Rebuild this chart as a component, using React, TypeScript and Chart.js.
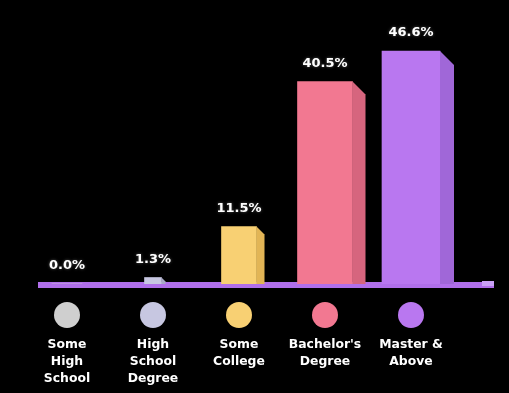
import React, { useEffect, useRef } from "react";
import { Chart, registerables } from "chart.js";
Chart.register(...registerables);

const categories: string[][] = [
  ["Some", "High", "School"],
  ["High", "School", "Degree"],
  ["Some", "College"],
  ["Bachelor's", "Degree"],
  ["Master &", "Above"],
];
const values: number[] = [0.0, 1.3, 11.5, 40.5, 46.6];
const valueLabels: string[] = ["0.0%", "1.3%", "11.5%", "40.5%", "46.6%"];
const frontColors = ["#cfcfcf", "#c7c7e1", "#f8d073", "#f27891", "#b977f0"];
const sideColors = ["#b0b0b0", "#a9a9c8", "#e2b556", "#d6657e", "#a067d8"];
const barWidths = [30, 17, 35, 55, 58];

const FONT = "'DejaVu Sans', sans-serif";

const decoPlugin = {
  id: "deco",
  beforeDatasetsDraw(chart: any) {
    const { ctx, chartArea } = chart;
    ctx.save();
    ctx.fillStyle = "#b06fea";
    ctx.fillRect(chartArea.left + 14, chartArea.bottom - 2, chartArea.right - chartArea.left + 26, 6);
    ctx.fillStyle = "#c9a0f5";
    ctx.fillRect(chartArea.right + 28, chartArea.bottom - 3, 12, 5);
    ctx.restore();
  },
  afterDatasetsDraw(chart: any) {
    const { ctx } = chart;
    ctx.save();
    chart.data.datasets.forEach((ds: any, i: number) => {
      const meta = chart.getDatasetMeta(i);
      const el: any = meta.data[i];
      if (!el) return;
      const { x, y, base, width } = el.getProps(["x", "y", "base", "width"], true);
      const h = base - y;
      const right = x + width / 2;
      const d = Math.round(width * 0.24);
      if (h > d + 1) {
        ctx.fillStyle = sideColors[i];
        ctx.beginPath();
        ctx.moveTo(right, y);
        ctx.lineTo(right + d, y + d);
        ctx.lineTo(right + d, base);
        ctx.lineTo(right, base);
        ctx.closePath();
        ctx.fill();
      }
      ctx.font = `bold 13px ${FONT}`;
      ctx.fillStyle = "#ffffff";
      ctx.textAlign = "center";
      ctx.textBaseline = "middle";
      ctx.shadowColor = "rgba(255,255,255,0.35)";
      ctx.shadowBlur = 3;
      ctx.fillText(valueLabels[i], x, y - 18);
      ctx.shadowBlur = 0;
    });
    ctx.restore();
  },
  afterDraw(chart: any) {
    const { ctx, chartArea } = chart;
    const xs = chart.scales.x;
    ctx.save();
    categories.forEach((_, i) => {
      const cx = xs.getPixelForValue(i);
      ctx.fillStyle = frontColors[i];
      ctx.beginPath();
      ctx.arc(cx, chartArea.bottom + 31, 13, 0, Math.PI * 2);
      ctx.fill();
    });
    ctx.restore();
  },
};

export default function App() {
  const ref = useRef<HTMLCanvasElement>(null);
  useEffect(() => {
    if (!ref.current) return;
    const chart = new Chart(ref.current, {
      type: "bar",
      data: {
        labels: categories,
        datasets: values.map((v, i) => ({
          label: valueLabels[i],
          data: values.map((_, j) => (j === i ? v : null)),
          backgroundColor: frontColors[i],
          barThickness: barWidths[i],
          borderWidth: 0,
        })),
      },
      options: {
        responsive: false,
        animation: false,
        maintainAspectRatio: false,
        layout: { padding: { top: 34, left: 24, right: 55, bottom: 6 } },
        plugins: { legend: { display: false }, tooltip: { enabled: false } },
        datasets: { bar: { grouped: false } } as any,
        scales: {
          y: { display: false, min: 0, max: 50 },
          x: {
            grid: { display: false, drawTicks: false },
            border: { display: false },
            afterFit: (s: any) => {
              s.height = 103;
              s.paddingLeft = 0;
              s.paddingRight = 0;
            },
            ticks: {
              color: "#ffffff",
              padding: 52,
              autoSkip: false,
              maxRotation: 0,
              font: { family: FONT, size: 12.4, weight: "bold" as any, lineHeight: 1.37 },
            },
          },
        },
      },
      plugins: [decoPlugin],
    });
    return () => chart.destroy();
  }, []);
  return (
    <div style={{ position: "fixed", left: 0, top: 0, width: 509, height: 393, background: "#000" }}>
      <canvas ref={ref} width={509} height={393} style={{ display: "block" }} />
    </div>
  );
}
